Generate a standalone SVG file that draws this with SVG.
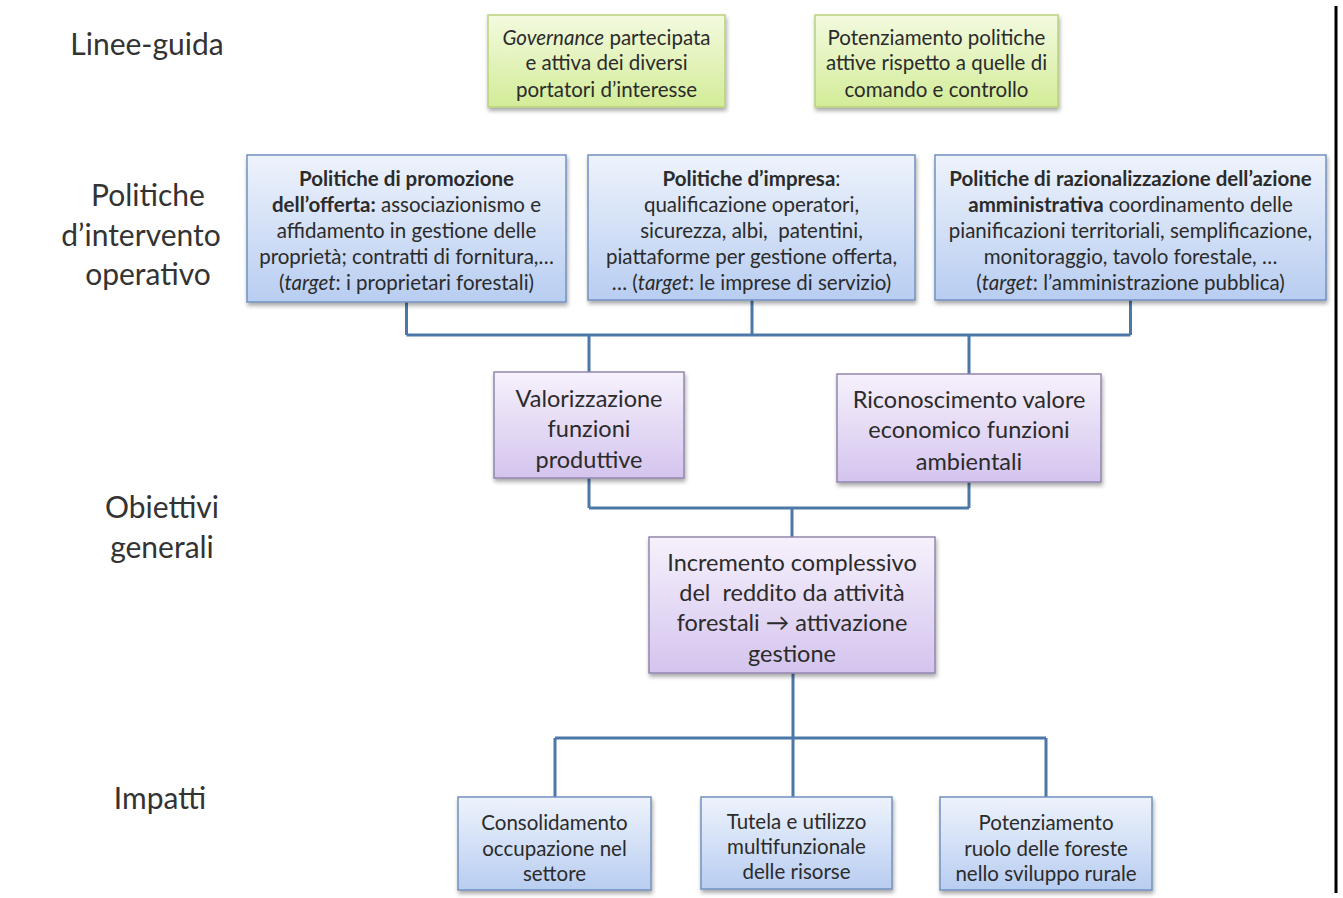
<svg xmlns="http://www.w3.org/2000/svg" width="1343" height="898" viewBox="0 0 1343 898">
<defs>
<linearGradient id="gGreen" x1="0" y1="0" x2="0" y2="1"><stop offset="0" stop-color="#f3fadf"/><stop offset="1" stop-color="#d3ec98"/></linearGradient>
<linearGradient id="gBlue" x1="0" y1="0" x2="0" y2="1"><stop offset="0" stop-color="#eef3fc"/><stop offset="1" stop-color="#b8cdf1"/></linearGradient>
<linearGradient id="gPurple" x1="0" y1="0" x2="0" y2="1"><stop offset="0" stop-color="#f6f1fc"/><stop offset="1" stop-color="#d4c4ee"/></linearGradient>
<filter id="sh" x="-10%" y="-10%" width="125%" height="130%"><feGaussianBlur in="SourceAlpha" stdDeviation="2"/><feOffset dx="1" dy="3"/><feComponentTransfer><feFuncA type="linear" slope="0.35"/></feComponentTransfer><feMerge><feMergeNode/><feMergeNode in="SourceGraphic"/></feMerge></filter>
</defs>
<style>
text{font-family:Lato,"Liberation Sans",sans-serif;fill:#2b2b2b;text-anchor:middle}
.lab{font-size:30px;fill:#333}
.g{fill:url(#gGreen);stroke:#b9d27c;stroke-width:1.5;filter:url(#sh)}
.b{fill:url(#gBlue);stroke:#7391bf;stroke-width:1.5;filter:url(#sh)}
.p{fill:url(#gPurple);stroke:#9386ad;stroke-width:1.5;filter:url(#sh)}
.t17{font-size:20.5px}
.t21{font-size:23.5px}
.bold{font-weight:bold}
.it{font-style:italic}
.con{fill:none;stroke:#4c78a8;stroke-width:3}
</style>
<rect width="1343" height="898" fill="#ffffff"/>
<line x1="1336" y1="6" x2="1336" y2="893" stroke="#000" stroke-width="3"/>

<g id="labels">
<text class="lab" x="147" y="55">Linee-guida</text>
<text class="lab" x="148" y="206">Politiche</text>
<text class="lab" x="141" y="246">d’intervento</text>
<text class="lab" x="148" y="285">operativo</text>
<text class="lab" x="162" y="518">Obiettivi</text>
<text class="lab" x="162" y="558">generali</text>
<text class="lab" x="160" y="809">Impatti</text>
</g>

<g id="connectors">
<path class="con" d="M406.5 302V335M752 300V335M1130.5 300V335M406.5 335H1130.5M589 335V372M969 335V374"/>
<path class="con" d="M589 478V508M969 482V508M589 508H969M792 508V537"/>
<path class="con" d="M793 673V797M555 738H1046M555 738V797M1046 738V797"/>
</g>

<g id="n-governance">
<rect class="g" x="488" y="15" width="237" height="92"/>
<text class="t17" x="606.5" y="45"><tspan class="it">Governance</tspan> partecipata</text>
<text class="t17" x="606.5" y="70">e attiva dei diversi</text>
<text class="t17" x="606.5" y="97">portatori d’interesse</text>
</g>
<g id="n-potenziamento-politiche">
<rect class="g" x="815" y="15" width="243" height="92"/>
<text class="t17" x="936.5" y="45">Potenziamento politiche</text>
<text class="t17" x="936.5" y="70">attive rispetto a quelle di</text>
<text class="t17" x="936.5" y="97">comando e controllo</text>
</g>

<g id="n-promozione">
<rect class="b" x="247" y="155" width="319" height="147"/>
<text class="t17 bold" x="406.5" y="186">Politiche di promozione</text>
<text class="t17" x="406.5" y="212"><tspan class="bold">dell’offerta:</tspan> associazionismo e</text>
<text class="t17" x="406.5" y="238">affidamento in gestione delle</text>
<text class="t17" x="406.5" y="264">proprietà; contratti di fornitura,…</text>
<text class="t17" x="406.5" y="290">(<tspan class="it">target</tspan>: i proprietari forestali)</text>
</g>
<g id="n-impresa">
<rect class="b" x="588" y="155" width="327" height="145"/>
<text class="t17" x="751.5" y="186"><tspan class="bold">Politiche d’impresa</tspan>:</text>
<text class="t17" x="751.5" y="212">qualificazione operatori,</text>
<text class="t17" x="751.5" y="238" xml:space="preserve">sicurezza, albi,  patentini,</text>
<text class="t17" x="751.5" y="264">piattaforme per gestione offerta,</text>
<text class="t17" x="751.5" y="290">… (<tspan class="it">target</tspan>: le imprese di servizio)</text>
</g>
<g id="n-razionalizzazione">
<rect class="b" x="935" y="155" width="391" height="145"/>
<text class="t17 bold" x="1130.5" y="186">Politiche di razionalizzazione dell’azione</text>
<text class="t17" x="1130.5" y="212"><tspan class="bold">amministrativa</tspan> coordinamento delle</text>
<text class="t17" x="1130.5" y="238">pianificazioni territoriali, semplificazione,</text>
<text class="t17" x="1130.5" y="264">monitoraggio, tavolo forestale, …</text>
<text class="t17" x="1130.5" y="290">(<tspan class="it">target</tspan>: l’amministrazione pubblica)</text>
</g>

<g id="n-valorizzazione">
<rect class="p" x="494" y="372" width="190" height="106"/>
<text class="t21" x="589" y="407">Valorizzazione</text>
<text class="t21" x="589" y="437">funzioni</text>
<text class="t21" x="589" y="468">produttive</text>
</g>
<g id="n-riconoscimento">
<rect class="p" x="837" y="374" width="264" height="108"/>
<text class="t21" x="969" y="408">Riconoscimento valore</text>
<text class="t21" x="969" y="438">economico funzioni</text>
<text class="t21" x="969" y="470">ambientali</text>
</g>
<g id="n-incremento">
<rect class="p" x="649" y="537" width="286" height="136"/>
<text class="t21" x="792" y="571">Incremento complessivo</text>
<text class="t21" x="792" y="601" xml:space="preserve">del  reddito da attività</text>
<text class="t21" x="792" y="631">forestali → attivazione</text>
<text class="t21" x="792" y="662">gestione</text>
</g>

<g id="n-consolidamento">
<rect class="b" x="458" y="797" width="193" height="93"/>
<text class="t17" x="554.5" y="830">Consolidamento</text>
<text class="t17" x="554.5" y="856">occupazione nel</text>
<text class="t17" x="554.5" y="881">settore</text>
</g>
<g id="n-tutela">
<rect class="b" x="701" y="797" width="191" height="92"/>
<text class="t17" x="796.5" y="829">Tutela e utilizzo</text>
<text class="t17" x="796.5" y="854">multifunzionale</text>
<text class="t17" x="796.5" y="879">delle risorse</text>
</g>
<g id="n-potenziamento-ruolo">
<rect class="b" x="940" y="797" width="212" height="93"/>
<text class="t17" x="1046" y="830">Potenziamento</text>
<text class="t17" x="1046" y="856">ruolo delle foreste</text>
<text class="t17" x="1046" y="881">nello sviluppo rurale</text>
</g>
</svg>
